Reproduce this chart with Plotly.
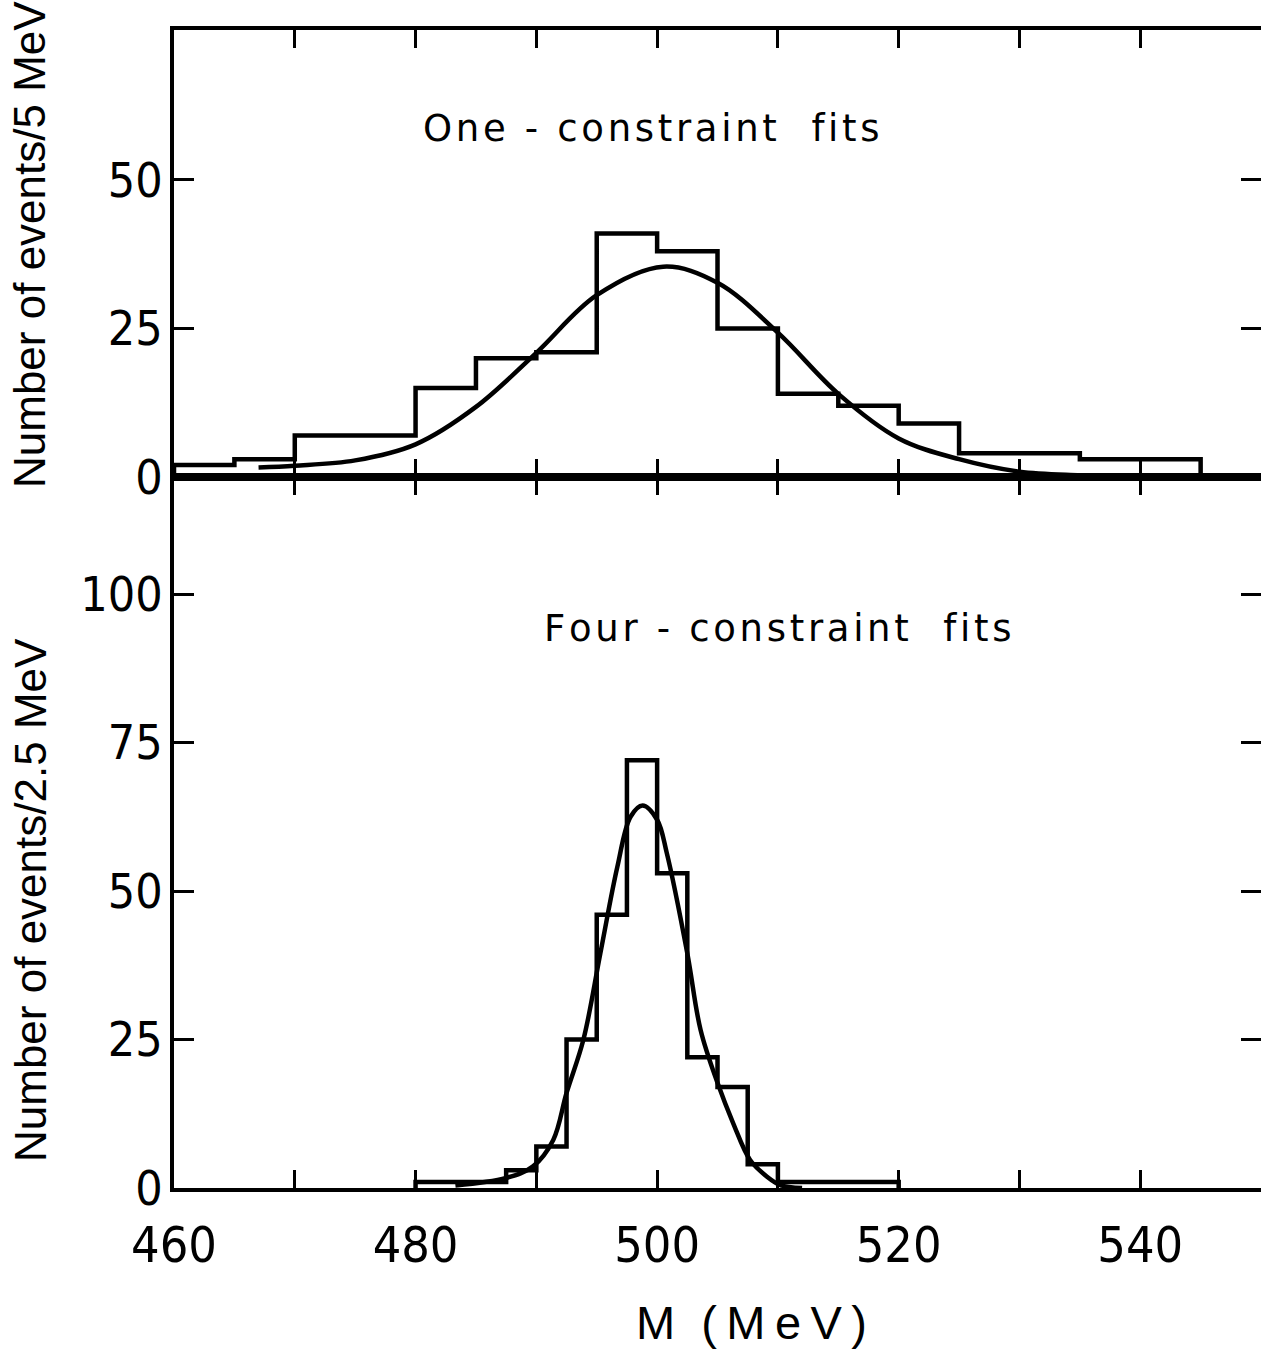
import plotly.graph_objects as go

# ---- data ----
# One-constraint fits: 5 MeV bins
top_edges = [460, 465, 470, 475, 480, 485, 490, 495, 500, 505, 510, 515, 520, 525, 530, 535, 540, 545]
top_counts = [2, 3, 7, 7, 15, 20, 21, 41, 38, 25, 14, 12, 9, 4, 4, 3, 3]
top_fit_x = [467, 470, 475, 480, 485, 490, 495, 500.5, 505, 510, 515, 520, 525, 530, 535, 538]
top_fit_y = [1.6, 1.9, 2.8, 5.5, 11.8, 20.9, 30.6, 35.4, 32.7, 24.3, 14.0, 6.5, 3.0, 0.9, 0.3, 0.1]

# Four-constraint fits: 2.5 MeV bins
bot_edges = [480, 482.5, 485, 487.5, 490, 492.5, 495, 497.5, 500, 502.5, 505, 507.5, 510, 512.5, 515, 517.5, 520]
bot_counts = [1, 1, 1, 3, 7, 25, 46, 72, 53, 22, 17, 4, 1, 1, 1, 1]
bot_fit_x = [483.3, 487.5, 489.7, 491.4, 492.5, 493.9, 495.3, 496.7, 497.8, 498.8, 500.0, 500.8,
             502.5, 503.6, 505.0, 506.3, 507.7, 509.1, 510.2, 512]
bot_fit_y = [0.4, 1.7, 3.6, 8.1, 16, 25, 39.5, 54, 62.5, 64.4, 62, 56.4,
             39.5, 26.6, 17.7, 10.9, 4.7, 1.9, 0.5, 0]

x_tickvals = [460, 480, 500, 520, 540]
top_yticks = [0, 25, 50]
bot_yticks = [0, 25, 50, 75, 100]

TITLE_TOP = "Number of events/5 MeV"
TITLE_BOT = "Number of events/2.5 MeV"
LABEL_TOP = "One - constraint  fits"
LABEL_BOT = "Four - constraint  fits"
X_TITLE = "M  (\u2009M\u2009e\u2009V\u2009)"

# ---- helpers ----
def step_xy(edges, counts):
    xs = [edges[0]] + list(edges)
    ys = [0] + list(counts) + [0]
    return xs, ys

def spaced(s):
    return "\u200a".join(list(s))

NARROW = "Liberation Sans Narrow, DejaVu Sans Condensed, sans-serif"
SANS = "Liberation Sans, Arial, sans-serif"
WIDE = "DejaVu Sans, sans-serif"

FIG_W, FIG_H = 1261, 1356
L, T, B = 174, 30, 168
PX_PER_MEV = 12.078
X_MAX = 460 + (FIG_W - L) / PX_PER_MEV
TOP_YMAX = 75.25
BOT_YMAX = 119.7

fig = go.Figure()

tx, ty = step_xy(top_edges, top_counts)
fig.add_trace(go.Scatter(x=tx, y=ty, mode="lines", line=dict(shape="hv", color="black", width=4.5),
                         xaxis="x2", yaxis="y2", showlegend=False, hoverinfo="skip"))
fig.add_trace(go.Scatter(x=top_fit_x, y=top_fit_y, mode="lines",
                         line=dict(shape="spline", smoothing=1.0, color="black", width=4.5),
                         xaxis="x2", yaxis="y2", showlegend=False, hoverinfo="skip"))

bx, by = step_xy(bot_edges, bot_counts)
fig.add_trace(go.Scatter(x=bx, y=by, mode="lines", line=dict(shape="hv", color="black", width=4.5),
                         xaxis="x", yaxis="y", showlegend=False, hoverinfo="skip"))
fig.add_trace(go.Scatter(x=bot_fit_x, y=bot_fit_y, mode="lines",
                         line=dict(shape="spline", smoothing=1.0, color="black", width=4.5),
                         xaxis="x", yaxis="y", showlegend=False, hoverinfo="skip"))

# empty traces so the right-hand tick-only axes are drawn
fig.add_trace(go.Scatter(x=[], y=[], xaxis="x", yaxis="y3", showlegend=False, hoverinfo="skip"))
fig.add_trace(go.Scatter(x=[], y=[], xaxis="x2", yaxis="y4", showlegend=False, hoverinfo="skip"))

split = (1188 - 477) / 1158.0

common_x = dict(range=[460, X_MAX], showline=True, linecolor="black", linewidth=3.5,
                ticks="inside", ticklen=18, tickwidth=3, tickcolor="black",
                tickvals=x_tickvals, mirror="ticks", showgrid=False, zeroline=False,
                minor=dict(dtick=10, tick0=460, ticks="inside", ticklen=18, tickwidth=3,
                           tickcolor="black", showgrid=False))

yfont = dict(family=NARROW, size=48, color="black")
ycommon = dict(showgrid=False, zeroline=False, ticks="inside", ticklen=20, tickwidth=3,
               tickcolor="black")

fig.update_layout(
    width=FIG_W, height=FIG_H,
    margin=dict(l=L, r=0, t=T, b=B),
    paper_bgcolor="white", plot_bgcolor="white",
    xaxis=dict(**common_x, anchor="y", domain=[0, 1],
               tickfont=dict(family=NARROW, size=50, color="black"), ticklabelstandoff=10),
    xaxis2=dict(**common_x, anchor="y2", matches="x", showticklabels=False),
    yaxis=dict(**ycommon, domain=[0, split], range=[0, BOT_YMAX], tickvals=bot_yticks, anchor="x",
               showline=True, linecolor="black", linewidth=3.5, mirror=False,
               ticklabelstandoff=-2, tickfont=yfont),
    yaxis2=dict(**ycommon, domain=[split, 1], range=[0, TOP_YMAX], tickvals=top_yticks, anchor="x2",
                showline=True, linecolor="black", linewidth=3.5, mirror=False,
                ticklabelstandoff=-2, tickfont=yfont),
    yaxis3=dict(**ycommon, overlaying="y", side="right", anchor="x", range=[0, BOT_YMAX],
                tickvals=bot_yticks, showline=False, showticklabels=False),
    yaxis4=dict(**ycommon, overlaying="y2", side="right", anchor="x2", range=[0, TOP_YMAX],
                tickvals=top_yticks, showline=False, showticklabels=False),
)

W_PLOT = FIG_W - L
annotations = [
    dict(text=spaced(LABEL_TOP), x=499.5, y=58.6, xref="x2", yref="y2", showarrow=False,
         font=dict(family=WIDE, size=37, color="black"), xanchor="center", yanchor="middle"),
    dict(text=spaced(LABEL_BOT), x=510.0, y=94.2, xref="x", yref="y", showarrow=False,
         font=dict(family=WIDE, size=37, color="black"), xanchor="center", yanchor="middle"),
    dict(text=TITLE_TOP, x=(30 - L) / W_PLOT, y=(1188 - 245) / 1158.0, xref="paper", yref="paper",
         showarrow=False, textangle=-90, font=dict(family=SANS, size=44, color="black"),
         xanchor="center", yanchor="middle"),
    dict(text=TITLE_BOT, x=(30 - L) / W_PLOT, y=(1188 - 900) / 1158.0, xref="paper", yref="paper",
         showarrow=False, textangle=-90, font=dict(family=SANS, size=44, color="black"),
         xanchor="center", yanchor="middle"),
    dict(text=X_TITLE, x=(751 - L) / W_PLOT, y=(1188 - 1322) / 1158.0, xref="paper", yref="paper",
         showarrow=False, font=dict(family=SANS, size=47, color="black"),
         xanchor="center", yanchor="middle"),
]
fig.update_layout(annotations=annotations)

fig.write_html("out.html", config={"displayModeBar": False},
               post_script="document.body.style.margin='0';document.body.style.overflow='hidden';")
